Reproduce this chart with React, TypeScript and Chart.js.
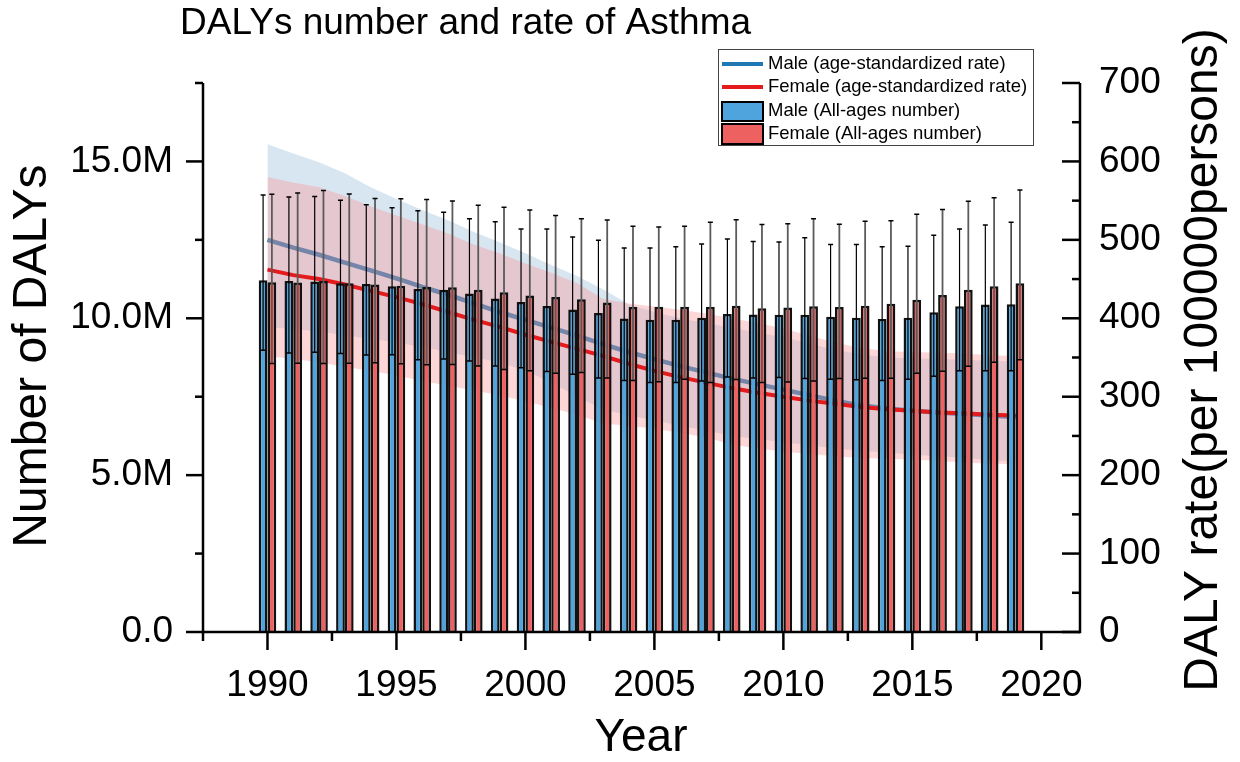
import React, { useEffect, useRef } from "react";
import { Chart, registerables } from "chart.js";

Chart.register(...registerables);

// ---------- data ----------
const years = [
  1990, 1991, 1992, 1993, 1994, 1995, 1996, 1997, 1998, 1999,
  2000, 2001, 2002, 2003, 2004, 2005, 2006, 2007, 2008, 2009,
  2010, 2011, 2012, 2013, 2014, 2015, 2016, 2017, 2018, 2019,
];

// All-ages number (millions)
const maleNumber = [
  11.21, 11.19, 11.17, 11.12, 11.09, 11.02, 10.93, 10.91, 10.79, 10.63,
  10.52, 10.39, 10.28, 10.17, 9.99, 9.95, 9.95, 10.02, 10.14, 10.12,
  10.11, 10.11, 10.05, 10.02, 9.98, 10.02, 10.19, 10.38, 10.44, 10.45,
];
const maleNumberUpper = [
  13.93, 13.87, 13.88, 13.76, 13.62, 13.52, 13.43, 13.38, 13.17, 13.08,
  12.85, 12.85, 12.59, 12.49, 12.24, 12.24, 12.28, 12.37, 12.53, 12.45,
  12.43, 12.57, 12.35, 12.35, 12.28, 12.3, 12.65, 12.85, 12.97, 13.06,
];
const maleNumberLower = [
  8.98, 8.89, 8.92, 8.88, 8.83, 8.84, 8.68, 8.7, 8.64, 8.48,
  8.42, 8.3, 8.22, 8.1, 8.02, 7.95, 7.95, 8.0, 8.13, 8.1,
  8.11, 8.08, 8.06, 8.04, 8.02, 8.06, 8.15, 8.33, 8.33, 8.33,
];
const femaleNumber = [
  11.15, 11.14, 11.19, 11.12, 11.08, 11.04, 11.0, 10.99, 10.91, 10.83,
  10.73, 10.68, 10.61, 10.5, 10.36, 10.37, 10.37, 10.37, 10.4, 10.32,
  10.34, 10.38, 10.36, 10.4, 10.46, 10.59, 10.74, 10.91, 11.02, 11.12,
];
const femaleNumberUpper = [
  13.95, 13.99, 14.07, 13.96, 13.82, 13.81, 13.79, 13.74, 13.6, 13.54,
  13.45, 13.28, 13.17, 13.13, 12.93, 12.91, 12.93, 13.06, 13.14, 12.99,
  13.01, 13.17, 13.0, 13.09, 13.11, 13.32, 13.47, 13.73, 13.84, 14.09,
];
const femaleNumberLower = [
  8.56, 8.57, 8.56, 8.57, 8.58, 8.55, 8.52, 8.53, 8.48, 8.37,
  8.33, 8.25, 8.27, 8.1, 8.02, 7.98, 8.06, 7.95, 8.05, 7.95,
  7.97, 8.0, 8.08, 8.09, 8.09, 8.25, 8.31, 8.47, 8.6, 8.68,
];

// Age-standardized rate (per 100000 persons)
const maleRate = [
  500, 490, 481, 471, 461, 451, 440, 430, 419, 408,
  398, 388, 378, 367, 357, 348, 339, 331, 323, 316,
  309, 302, 295, 289, 285, 282, 280, 278, 276, 274,
];
const maleRateUpper = [
  622, 610, 599, 585, 567, 552, 538, 525, 510, 497,
  483, 468, 454, 437, 418, 408, 400, 394, 388, 382,
  376, 368, 360, 354, 350, 349, 348, 347, 346, 345,
];
const maleRateLower = [
  389, 386, 383, 378, 374, 369, 363, 357, 350, 344,
  333, 318, 300, 284, 276, 270, 263, 257, 250, 246,
  242, 238, 234, 231, 229, 226, 224, 222, 219, 218,
];
const femaleRate = [
  462, 455, 450, 443, 435, 427, 418, 408, 398, 389,
  379, 370, 361, 352, 342, 333, 325, 318, 311, 305,
  300, 295, 291, 287, 284, 282, 280, 279, 277, 276,
];
const femaleRateUpper = [
  580, 573, 567, 556, 543, 531, 520, 508, 494, 483,
  470, 458, 445, 425, 419, 415, 411, 406, 400, 394,
  387, 378, 369, 362, 358, 357, 356, 355, 353, 352,
];
const femaleRateLower = [
  352, 348, 344, 338, 333, 327, 320, 314, 308, 302,
  294, 286, 277, 266, 263, 259, 254, 248, 239, 234,
  230, 227, 224, 222, 221, 220, 218, 216, 215, 214,
];

// ticks
const xMajorTicks = [1990, 1995, 2000, 2005, 2010, 2015, 2020];
const xMinorTicks = [1987.5, 1992.5, 1997.5, 2002.5, 2007.5, 2012.5, 2017.5];
const leftMajorTicks = [0, 5, 10, 15];
const leftTickLabels = ["0.0", "5.0M", "10.0M", "15.0M"];
const leftMinorTicks = [2.5, 7.5, 12.5, 17.5];
const rightMajorTicks = [0, 100, 200, 300, 400, 500, 600, 700];
const rightMinorTicks = [50, 150, 250, 350, 450, 550, 650];

const legendLabels = [
  "Male (age-standardized rate)",
  "Female (age-standardized rate)",
  "Male (All-ages number)",
  "Female (All-ages number)",
];

// ---------- styles ----------
const FONT = "'Liberation Sans', Arial, Helvetica, sans-serif";
const MALE_BAR = "#4fa4de";
const FEMALE_BAR = "#ee6161";
const MALE_LINE = "#1f77b4";
const FEMALE_LINE = "#e41a1c";
const MALE_BAND = "rgba(31,119,180,0.18)";
const FEMALE_BAND = "rgba(250,155,155,0.4)";

const W = 1240;
const H = 762;

const pts = (vals: number[]) => years.map((y, i) => ({ x: y, y: vals[i] }));

const decorPlugin = {
  id: "decor",
  afterDatasetsDraw(chart: any) {
    const ctx = chart.ctx;
    const ys = chart.scales.y;
    const specs = [
      { idx: 0, up: maleNumberUpper, lo: maleNumberLower, color: "#000", w: 1.2 },
      { idx: 1, up: femaleNumberUpper, lo: femaleNumberLower, color: "#5a5a5a", w: 1.8 },
    ];
    ctx.save();
    specs.forEach((s) => {
      const meta = chart.getDatasetMeta(s.idx);
      meta.data.forEach((el: any, i: number) => {
        const x = el.x;
        const yu = ys.getPixelForValue(s.up[i]);
        const yl = ys.getPixelForValue(s.lo[i]);
        ctx.strokeStyle = s.color;
        ctx.lineWidth = s.w;
        ctx.beginPath();
        ctx.moveTo(x, yu);
        ctx.lineTo(x, yl);
        ctx.stroke();
        ctx.strokeStyle = "#000";
        ctx.lineWidth = 1.5;
        ctx.beginPath();
        ctx.moveTo(x - 2.5, yu);
        ctx.lineTo(x + 2.5, yu);
        ctx.moveTo(x - 2.5, yl);
        ctx.lineTo(x + 2.5, yl);
        ctx.stroke();
      });
    });
    ctx.restore();
  },
  afterDraw(chart: any) {
    const ctx = chart.ctx;
    const { left, right, top, bottom } = chart.chartArea;
    const xs = chart.scales.x;
    const ys = chart.scales.y;
    const y1 = chart.scales.y1;
    ctx.save();
    ctx.strokeStyle = "#000";
    ctx.lineWidth = 2.5;
    ctx.lineCap = "butt";
    const line = (x0: number, y0: number, x1: number, yy1: number) => {
      ctx.beginPath();
      ctx.moveTo(x0, y0);
      ctx.lineTo(x1, yy1);
      ctx.stroke();
    };
    // axis lines
    line(left, top, left, bottom + 1.25);
    line(right, top, right, bottom + 1.25);
    line(left, bottom, right, bottom);
    // x ticks
    xMajorTicks.forEach((v) => {
      const p = xs.getPixelForValue(v);
      line(p, bottom, p, bottom + 18);
    });
    xMinorTicks.forEach((v) => {
      const p = xs.getPixelForValue(v);
      line(p, bottom, p, bottom + 9);
    });
    // left ticks (outward)
    leftMajorTicks.forEach((v) => {
      const p = ys.getPixelForValue(v);
      line(left - 17, p, left, p);
    });
    leftMinorTicks.forEach((v) => {
      const p = ys.getPixelForValue(v);
      line(left - 8, p, left, p);
    });
    // right ticks (inward)
    rightMajorTicks.forEach((v) => {
      const p = y1.getPixelForValue(v);
      line(right - 18, p, right, p);
    });
    rightMinorTicks.forEach((v) => {
      const p = y1.getPixelForValue(v);
      line(right - 8, p, right, p);
    });

    // titles
    ctx.fillStyle = "#000";
    ctx.textBaseline = "middle";
    ctx.textAlign = "left";
    ctx.font = `37px ${FONT}`;
    ctx.fillText("DALYs number and rate of Asthma", 180, 24);

    ctx.textAlign = "center";
    ctx.font = `46px ${FONT}`;
    ctx.fillText("Year", 641, 738);

    ctx.save();
    ctx.translate(33, 356);
    ctx.rotate(-Math.PI / 2);
    ctx.font = `48px ${FONT}`;
    ctx.fillText("Number of DALYs", 0, 0);
    ctx.restore();

    ctx.save();
    ctx.translate(1204, 360);
    ctx.rotate(-Math.PI / 2);
    ctx.font = `48px ${FONT}`;
    ctx.fillText("DALY rate(per 100000persons)", 0, 0);
    ctx.restore();

    // legend
    ctx.lineWidth = 1;
    ctx.strokeStyle = "#444";
    ctx.strokeRect(718.5, 49.5, 315, 96);
    ctx.lineWidth = 4;
    ctx.strokeStyle = MALE_LINE;
    line(722, 64, 763, 64);
    ctx.strokeStyle = FEMALE_LINE;
    line(722, 87, 763, 87);
    ctx.lineWidth = 2;
    ctx.strokeStyle = "#000";
    ctx.fillStyle = MALE_BAR;
    ctx.fillRect(722, 102, 41, 19);
    ctx.strokeRect(722, 102, 41, 19);
    ctx.fillStyle = FEMALE_BAR;
    ctx.fillRect(722, 124, 41, 20);
    ctx.strokeRect(722, 124, 41, 20);
    ctx.fillStyle = "#000";
    ctx.textAlign = "left";
    ctx.font = `18.5px ${FONT}`;
    const ly = [64, 87, 111, 134];
    legendLabels.forEach((t, i) => ctx.fillText(t, 768, ly[i]));
    ctx.restore();
  },
};

export default function App() {
  const ref = useRef<HTMLCanvasElement | null>(null);

  useEffect(() => {
    if (!ref.current) return;
    const chart = new Chart(ref.current, {
      type: "bar",
      data: {
        datasets: [
          {
            type: "bar",
            label: legendLabels[2],
            data: pts(maleNumber),
            yAxisID: "y",
            backgroundColor: MALE_BAR,
            borderColor: "#111",
            borderWidth: 2.5,
            borderSkipped: "start",
            categoryPercentage: 0.68,
            barPercentage: 1.0,
            order: 1,
          },
          {
            type: "bar",
            label: legendLabels[3],
            data: pts(femaleNumber),
            yAxisID: "y",
            backgroundColor: FEMALE_BAR,
            borderColor: "#111",
            borderWidth: 2.5,
            borderSkipped: "start",
            categoryPercentage: 0.68,
            barPercentage: 1.0,
            order: 1,
          },
          {
            type: "line",
            label: legendLabels[1],
            data: pts(femaleRate),
            yAxisID: "y1",
            borderColor: FEMALE_LINE,
            borderWidth: 4,
            pointRadius: 0,
            fill: false,
            tension: 0,
            order: 3,
          },
          {
            type: "line",
            label: "Female upper",
            data: pts(femaleRateUpper),
            yAxisID: "y1",
            borderWidth: 0,
            borderColor: "rgba(0,0,0,0)",
            backgroundColor: FEMALE_BAND,
            pointRadius: 0,
            fill: "+1",
            order: 4,
          },
          {
            type: "line",
            label: "Female lower",
            data: pts(femaleRateLower),
            yAxisID: "y1",
            borderWidth: 0,
            borderColor: "rgba(0,0,0,0)",
            pointRadius: 0,
            fill: false,
            order: 4,
          },
          {
            type: "line",
            label: legendLabels[0],
            data: pts(maleRate),
            yAxisID: "y1",
            borderColor: MALE_LINE,
            borderWidth: 4.5,
            pointRadius: 0,
            fill: false,
            tension: 0,
            order: 5,
          },
          {
            type: "line",
            label: "Male upper",
            data: pts(maleRateUpper),
            yAxisID: "y1",
            borderWidth: 0,
            borderColor: "rgba(0,0,0,0)",
            backgroundColor: MALE_BAND,
            pointRadius: 0,
            fill: "+1",
            order: 6,
          },
          {
            type: "line",
            label: "Male lower",
            data: pts(maleRateLower),
            yAxisID: "y1",
            borderWidth: 0,
            borderColor: "rgba(0,0,0,0)",
            pointRadius: 0,
            fill: false,
            order: 6,
          },
        ],
      },
      options: {
        animation: false,
        responsive: false,
        devicePixelRatio: 1,
        layout: { padding: { top: 83, left: 0, right: 0, bottom: 0 } },
        plugins: {
          legend: { display: false },
          tooltip: { enabled: false },
          title: { display: false },
        },
        scales: {
          x: {
            type: "linear",
            min: 1987.5,
            max: 2021.5,
            offset: false,
            grid: { display: false, drawTicks: false },
            border: { display: false },
            afterBuildTicks: (s: any) => {
              s.ticks = xMajorTicks.map((v) => ({ value: v }));
            },
            afterFit: (s: any) => {
              s.height = H - 632;
            },
            ticks: {
              padding: 32,
              color: "#000",
              font: { family: FONT, size: 37 },
              maxRotation: 0,
              autoSkip: false,
              callback: (v: any) => String(v),
            },
          },
          y: {
            type: "linear",
            position: "left",
            min: 0,
            max: 17.5,
            grid: { display: false, drawTicks: false },
            border: { display: false },
            afterBuildTicks: (s: any) => {
              s.ticks = leftMajorTicks.map((v) => ({ value: v }));
            },
            afterFit: (s: any) => {
              s.width = 203;
            },
            ticks: {
              padding: 30,
              color: "#000",
              font: { family: FONT, size: 37 },
              autoSkip: false,
              callback: (v: any) => {
                const i = leftMajorTicks.indexOf(Number(v));
                return i >= 0 ? leftTickLabels[i] : "";
              },
            },
          },
          y1: {
            type: "linear",
            position: "right",
            min: 0,
            max: 700,
            grid: { display: false, drawTicks: false },
            border: { display: false },
            afterBuildTicks: (s: any) => {
              s.ticks = rightMajorTicks.map((v) => ({ value: v }));
            },
            afterFit: (s: any) => {
              s.width = W - 1080;
            },
            ticks: {
              padding: 19,
              color: "#000",
              font: { family: FONT, size: 37 },
              autoSkip: false,
              callback: (v: any) => String(v),
            },
          },
        },
      },
      plugins: [decorPlugin],
    } as any);
    return () => chart.destroy();
  }, []);

  return (
    <div
      style={{
        position: "absolute",
        left: 0,
        top: 0,
        width: W,
        height: H,
        background: "#fff",
      }}
    >
      <canvas ref={ref} width={W} height={H} style={{ width: W, height: H, display: "block" }} />
    </div>
  );
}
